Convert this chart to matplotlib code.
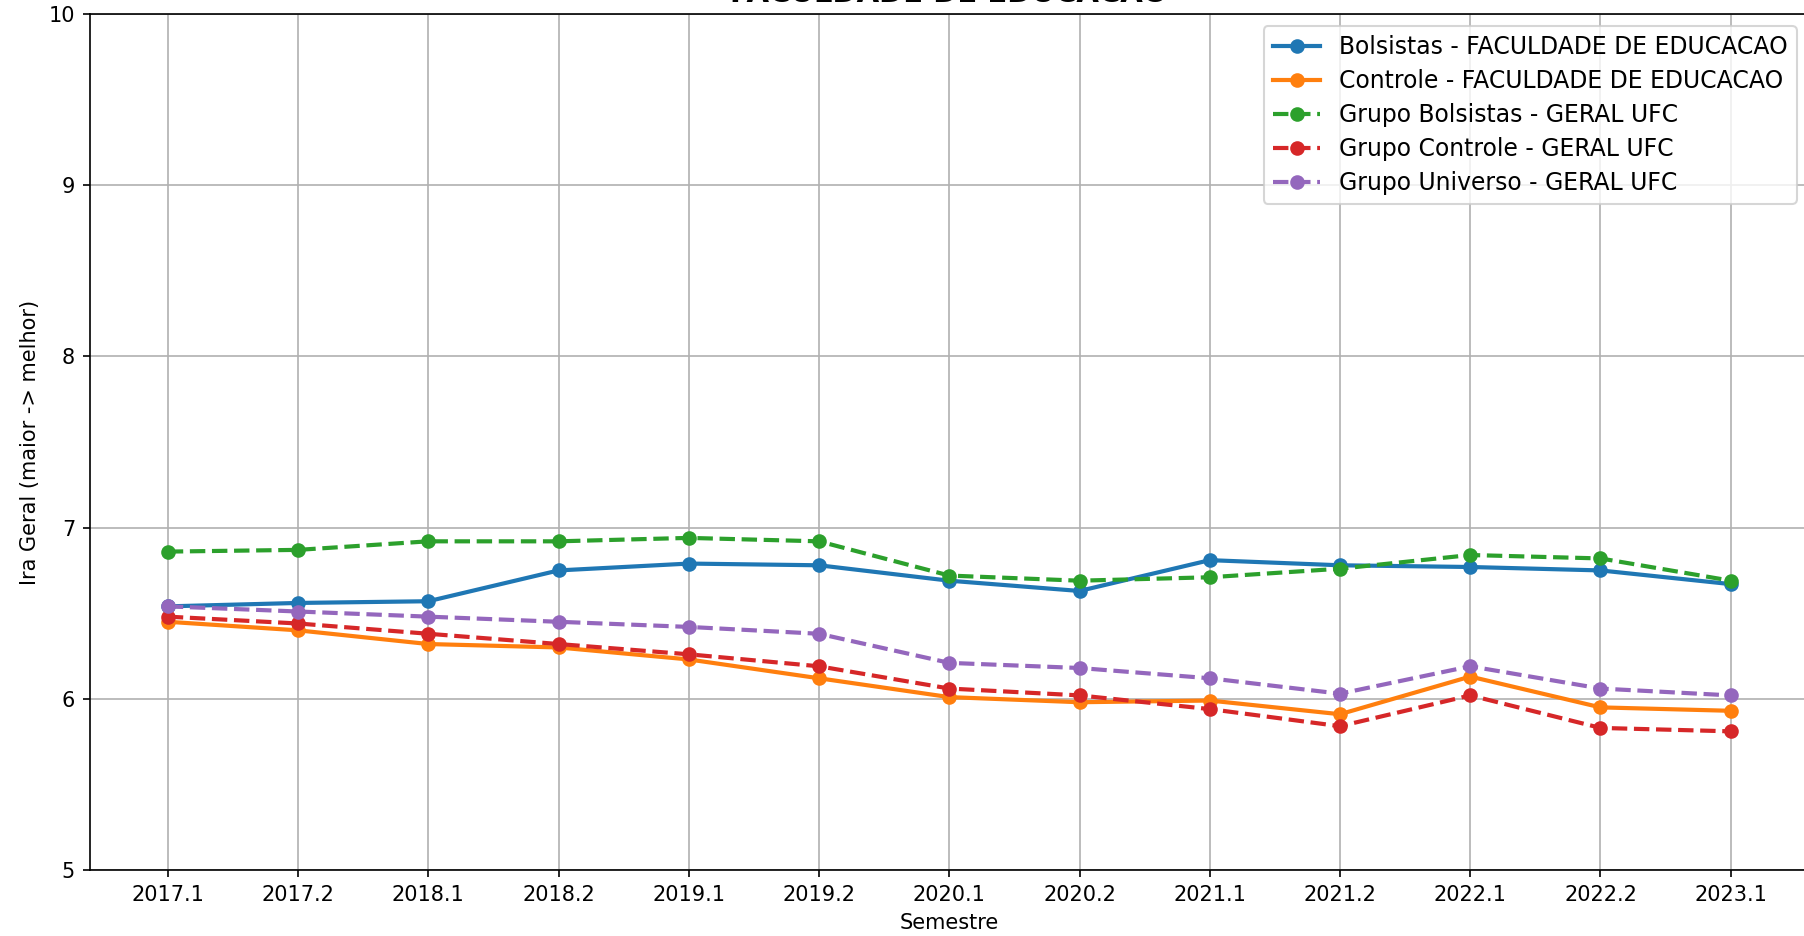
import matplotlib
matplotlib.use("Agg")
import matplotlib.pyplot as plt

# -----------------------------
# DADOS
# -----------------------------
semestres = ["2017.1", "2017.2", "2018.1", "2018.2", "2019.1", "2019.2", "2020.1",
             "2020.2", "2021.1", "2021.2", "2022.1", "2022.2", "2023.1"]

bolsistas_fe = [6.54, 6.56, 6.57, 6.75, 6.79, 6.78, 6.69, 6.63, 6.81, 6.78, 6.77, 6.75, 6.67]
controle_fe = [6.45, 6.40, 6.32, 6.30, 6.23, 6.12, 6.01, 5.98, 5.99, 5.91, 6.13, 5.95, 5.93]
bolsistas_ufc = [6.86, 6.87, 6.92, 6.92, 6.94, 6.92, 6.72, 6.69, 6.71, 6.76, 6.84, 6.82, 6.69]
controle_ufc = [6.48, 6.44, 6.38, 6.32, 6.26, 6.19, 6.06, 6.02, 5.94, 5.84, 6.02, 5.83, 5.81]
universo_ufc = [6.54, 6.51, 6.48, 6.45, 6.42, 6.38, 6.21, 6.18, 6.12, 6.03, 6.19, 6.06, 6.02]

curso = "FACULDADE DE EDUCACAO"

# -----------------------------
# GRAFICO
# -----------------------------
fig = plt.figure(figsize=(1804 / 150, 936 / 150), dpi=150)
ax = fig.add_axes([0.0497, 0.0705, 0.953, 0.9145])

ax.plot(semestres, bolsistas_fe, marker='o', linewidth=2, label=f"Bolsistas - {curso}")
ax.plot(semestres, controle_fe, marker='o', linewidth=2, label=f"Controle - {curso}")
ax.plot(semestres, bolsistas_ufc, marker='o', linestyle='--', linewidth=2,
        label="Grupo Bolsistas - GERAL UFC")
ax.plot(semestres, controle_ufc, marker='o', linestyle='--', linewidth=2,
        label="Grupo Controle - GERAL UFC")
ax.plot(semestres, universo_ufc, marker='o', linestyle='--', linewidth=2,
        label="Grupo Universo - GERAL UFC")

ax.set_ylim(5, 10)
ax.set_xlabel("Semestre")
ax.set_ylabel("Ira Geral (maior -> melhor)")
ax.set_title(curso, fontsize=14, fontweight='bold')
ax.legend(loc="upper right", fontsize=11.3, labelspacing=0.42)
ax.grid(True)

fig.savefig("out.png", dpi=150)
